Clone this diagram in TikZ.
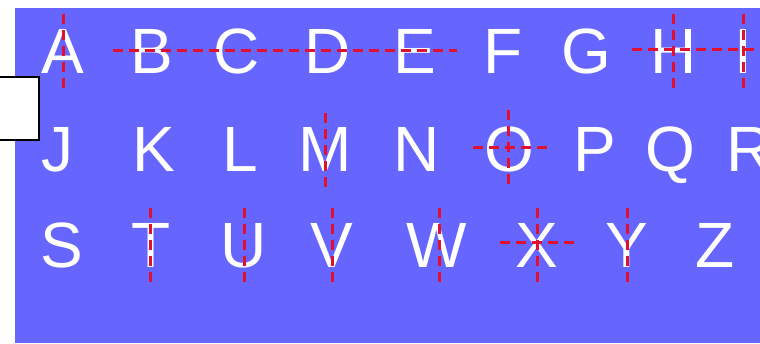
\documentclass[tikz,border=0pt]{standalone}
\usepackage{fontspec}
\setmainfont{Liberation Sans}
\usetikzlibrary{positioning}
\definecolor{panel}{HTML}{6666FF}
\definecolor{axisred}{HTML}{E01030}

\begin{document}
\begin{tikzpicture}[
			x=1pt, y=-1pt,
			letter/.style={text=white, font=\fontsize{64}{64}\selectfont, inner sep=0pt, anchor=base},
			symaxis/.style={draw=axisred, line width=3pt, dash pattern=on 10pt off 6pt}
			]
			\useasboundingbox (0,0) rectangle (760,343);
			\fill[panel] (15,8) rectangle (760,343);
			\draw[fill=white, line width=1.2pt] (-5,77) rectangle (39,140);
			% the three rows of letters
			\foreach \l/\x in {A/63, B/152, C/237, D/328, E/415, F/503, G/586, H/674, I/743}
				\node[letter] (\l) at (\x,73) {\l};
			\foreach \l/\x in {J/57, K/154, L/240, M/325, N/417, O/509, P/595, Q/670, R/750}
				\node[letter] (\l) at (\x,171) {\l};
			\foreach \l/\x in {S/62, T/151, U/244, V/332, W/437, X/537, Y/627, Z/715}
				\node[letter] (\l) at (\x,267) {\l};
			% lines of symmetry
			\foreach \x/\ya/\yb in {63/14/91, 673/14/92, 743/14/92, 325/113/193, 508/110/188,
				150/208/286, 244/208/286, 332/208/287, 439/208/287, 537/208/287, 627/208/285}
				\draw[symaxis] (\x,\ya) -- (\x,\yb);
			\draw[symaxis] (113,50) -- (457,50);
			\draw[symaxis] (632,49) -- (760,49);
			\draw[symaxis] (473,147) -- (550,147);
			\draw[symaxis] (500,242) -- (577,242);
		\end{tikzpicture}
\end{document}
